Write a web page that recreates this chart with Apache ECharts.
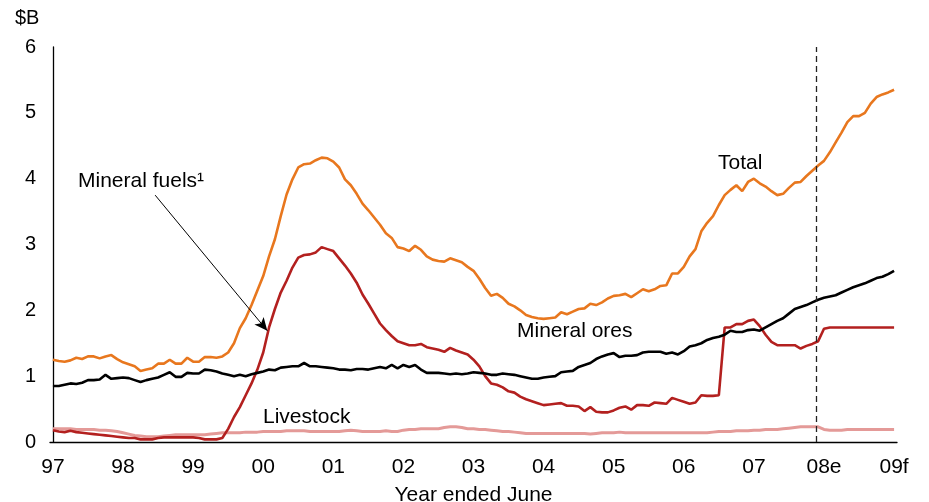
<!DOCTYPE html>
<html>
<head>
<meta charset="utf-8">
<title>Resource exports</title>
<script src="https://cdn.jsdelivr.net/npm/echarts@6/dist/echarts.min.js"></script>
<style>
  html, body { margin: 0; padding: 0; background: #fff; }
  #chart { width: 929px; height: 502px; }
</style>
</head>
<body>
<div id="chart"></div>
<script>
// Monthly, June 1997 (index 0) to June 2009 (index 144), $B
const yearLabels = ['97', '98', '99', '00', '01', '02', '03', '04', '05', '06', '07', '08e', '09f'];

const total = [
  1.25, 1.23, 1.22, 1.24, 1.28, 1.26, 1.3, 1.3, 1.27, 1.3, 1.32, 1.26,
  1.21, 1.18, 1.15, 1.08, 1.1, 1.12, 1.19, 1.19, 1.25, 1.19, 1.19, 1.28,
  1.22, 1.22, 1.29, 1.29, 1.28, 1.3, 1.36, 1.5, 1.73, 1.88, 2.08, 2.3,
  2.52, 2.82, 3.08, 3.43, 3.76, 3.99, 4.17, 4.22, 4.23, 4.28, 4.32, 4.31,
  4.26, 4.17, 3.99, 3.9, 3.77, 3.62, 3.52, 3.41, 3.3, 3.17, 3.1, 2.96,
  2.94, 2.9, 2.98, 2.92, 2.82, 2.77, 2.75, 2.74, 2.79, 2.76, 2.73, 2.66,
  2.6, 2.48, 2.34, 2.22, 2.25, 2.19, 2.1, 2.06, 2.0, 1.93, 1.9, 1.88,
  1.87, 1.88, 1.89, 1.97, 1.94, 1.98, 2.02, 2.03, 2.1, 2.08, 2.12, 2.18,
  2.22, 2.23, 2.25, 2.2, 2.26, 2.32, 2.29, 2.32, 2.37, 2.38, 2.56, 2.56,
  2.66, 2.82, 2.93, 3.2, 3.33, 3.43, 3.6, 3.75, 3.83, 3.9, 3.81, 3.95,
  4.0, 3.93, 3.88, 3.81, 3.75, 3.77, 3.86, 3.94, 3.95, 4.04, 4.12, 4.2,
  4.27, 4.4, 4.55, 4.7, 4.86, 4.95, 4.95, 5.0, 5.14, 5.24, 5.28, 5.31, 5.35
];

const mineralFuels = [
  0.18, 0.16, 0.15, 0.17, 0.15, 0.14, 0.13, 0.12, 0.11, 0.1, 0.09, 0.08,
  0.07, 0.06, 0.06, 0.04, 0.04, 0.04, 0.06, 0.07, 0.07, 0.07, 0.07, 0.07,
  0.07, 0.06, 0.04, 0.04, 0.04, 0.06, 0.2, 0.38, 0.53, 0.71, 0.89, 1.1,
  1.36, 1.74, 2.02, 2.27, 2.45, 2.65, 2.8, 2.84, 2.85, 2.88, 2.96, 2.93,
  2.9, 2.79, 2.68, 2.56, 2.42, 2.24, 2.1, 1.95, 1.8, 1.7, 1.61, 1.53,
  1.5, 1.47, 1.47, 1.49, 1.44, 1.42, 1.4, 1.37, 1.43, 1.39, 1.36, 1.33,
  1.25, 1.15, 1.0, 0.89, 0.87, 0.83, 0.77, 0.75, 0.69, 0.65, 0.62, 0.59,
  0.56, 0.57, 0.58, 0.59, 0.55, 0.55, 0.54, 0.47, 0.53, 0.46, 0.45, 0.45,
  0.48, 0.52, 0.54, 0.49, 0.56, 0.56, 0.55, 0.6, 0.59, 0.58, 0.67, 0.64,
  0.61, 0.58, 0.6, 0.71, 0.7, 0.7, 0.71, 1.74, 1.74, 1.79, 1.79, 1.84,
  1.86, 1.76, 1.63, 1.52, 1.47, 1.47, 1.47, 1.47, 1.42, 1.46, 1.49, 1.53,
  1.72, 1.74, 1.74, 1.74, 1.74, 1.74, 1.74, 1.74, 1.74, 1.74, 1.74, 1.74, 1.74
];

const mineralOres = [
  0.85, 0.85, 0.87, 0.89, 0.88, 0.9, 0.94, 0.94, 0.95, 1.02, 0.96, 0.97,
  0.98, 0.97, 0.94, 0.91, 0.94, 0.96, 0.98, 1.02, 1.06, 0.99, 0.99, 1.05,
  1.04, 1.04, 1.1, 1.09, 1.07, 1.04, 1.02, 1.0, 1.02, 1.0, 1.03, 1.05,
  1.07, 1.1, 1.09, 1.13, 1.14, 1.15, 1.15, 1.2, 1.15, 1.15, 1.14, 1.13,
  1.12, 1.1, 1.1, 1.09, 1.11, 1.11, 1.1, 1.12, 1.14, 1.12, 1.17, 1.12,
  1.17, 1.14, 1.17, 1.1, 1.05, 1.05, 1.05, 1.04, 1.03, 1.04, 1.03, 1.04,
  1.06, 1.05, 1.04, 1.02, 1.02, 1.04, 1.03, 1.02, 1.0, 0.98, 0.96, 0.96,
  0.98, 0.99, 1.0, 1.06, 1.07, 1.08, 1.14, 1.17, 1.2, 1.26, 1.3, 1.33,
  1.35, 1.29, 1.31, 1.31, 1.32, 1.36, 1.37, 1.37, 1.37, 1.34, 1.36, 1.33,
  1.38, 1.45, 1.47, 1.5, 1.55, 1.58, 1.6, 1.63, 1.69, 1.67, 1.67, 1.7,
  1.71, 1.69, 1.74, 1.79, 1.84, 1.88, 1.95, 2.02, 2.05, 2.08, 2.12, 2.16,
  2.19, 2.21, 2.23, 2.27, 2.31, 2.35, 2.38, 2.41, 2.45, 2.49, 2.51, 2.55, 2.6
];

const livestock = [
  0.2, 0.2, 0.2, 0.2, 0.19, 0.19, 0.19, 0.19, 0.18, 0.18, 0.17, 0.16,
  0.14, 0.12, 0.1, 0.09, 0.08, 0.08, 0.08, 0.09, 0.1, 0.11, 0.11, 0.11,
  0.11, 0.11, 0.11, 0.12, 0.13, 0.14, 0.14, 0.14, 0.14, 0.15, 0.15, 0.15,
  0.16, 0.16, 0.16, 0.16, 0.17, 0.17, 0.17, 0.17, 0.16, 0.16, 0.16, 0.16,
  0.16, 0.16, 0.17, 0.18, 0.17, 0.16, 0.16, 0.16, 0.16, 0.17, 0.16, 0.16,
  0.18, 0.19, 0.19, 0.2, 0.2, 0.2, 0.2, 0.22, 0.23, 0.23, 0.22, 0.2,
  0.2, 0.19, 0.19, 0.18, 0.17, 0.16, 0.16, 0.15, 0.14, 0.13, 0.13, 0.13,
  0.13, 0.13, 0.13, 0.13, 0.13, 0.13, 0.13, 0.13, 0.12, 0.13, 0.14, 0.14,
  0.14, 0.15, 0.14, 0.14, 0.14, 0.14, 0.14, 0.14, 0.14, 0.14, 0.14, 0.14,
  0.14, 0.14, 0.14, 0.14, 0.14, 0.15, 0.16, 0.16, 0.16, 0.17, 0.17, 0.17,
  0.18, 0.18, 0.19, 0.19, 0.19, 0.2, 0.21, 0.22, 0.23, 0.23, 0.23, 0.23,
  0.19, 0.18, 0.18, 0.18, 0.19, 0.19, 0.19, 0.19, 0.19, 0.19, 0.19, 0.19, 0.19
];

// Last actual month (forecasts after), and the arrow pointing to the fuels line
const forecastStart = 130.6;
const arrowFrom = [17.5, 3.75];
const arrowTo = [36.7, 1.69];

const FONT = '"Liberation Sans", Arial, Helvetica, sans-serif';

function toPairs(values) {
  return values.map((v, i) => [i, v]);
}

const chart = echarts.init(document.getElementById('chart'));

function lineSeries(name, values, color, width, extra) {
  return Object.assign({
    name: name,
    type: 'line',
    data: toPairs(values),
    showSymbol: false,
    symbol: 'none',
    lineStyle: { color: color, width: width },
    itemStyle: { color: color },
    emphasis: { disabled: true },
    z: 2
  }, extra || {});
}

chart.setOption({
  animation: false,
  backgroundColor: '#ffffff',
  grid: { left: 50, right: 32, top: 47, bottom: 60, containLabel: false, outerBoundsMode: 'none' },
  xAxis: {
    type: 'value',
    min: -0.5,
    max: 144.5,
    name: 'Year ended June',
    nameLocation: 'middle',
    nameGap: 43,
    nameTextStyle: { fontFamily: FONT, fontSize: 21, color: '#000' },
    splitLine: { show: false },
    axisLine: { show: true, onZero: false, lineStyle: { color: '#000', width: 1.3 } },
    axisTick: { show: false },
    axisLabel: {
      customValues: yearLabels.map((_, i) => i * 12),
      formatter: v => yearLabels[Math.round(v / 12)],
      fontFamily: FONT,
      fontSize: 21,
      color: '#000',
      margin: 15
    }
  },
  yAxis: {
    type: 'value',
    min: 0,
    max: 6,
    interval: 1,
    splitLine: { show: false },
    axisLine: { show: true, lineStyle: { color: '#000', width: 1.3 } },
    axisTick: { show: false },
    axisLabel: { fontFamily: FONT, fontSize: 20, color: '#000', margin: 14 }
  },
  graphic: [
    { type: 'text', left: 15, top: 8, style: { text: '$B', font: '20px ' + FONT, fill: '#000' } },
    { type: 'text', left: 78, top: 171, style: { text: 'Mineral fuels¹', font: '21px ' + FONT, fill: '#000' } },
    { type: 'text', left: 718, top: 153, style: { text: 'Total', font: '21px ' + FONT, fill: '#000' } },
    { type: 'text', left: 517, top: 321, style: { text: 'Mineral ores', font: '21px ' + FONT, fill: '#000' } },
    { type: 'text', left: 263, top: 407, style: { text: 'Livestock', font: '21px ' + FONT, fill: '#000' } }
  ],
  series: [
    lineSeries('Livestock', livestock, '#E49A98', 3),
    lineSeries('Mineral fuels', mineralFuels, '#B3201F', 2.6, {
      markLine: {
        silent: true,
        symbol: ['none', 'arrow'],
        symbolSize: [9, 13],
        label: { show: false },
        lineStyle: { color: '#000', width: 1, type: 'solid' },
        data: [[{ coord: arrowFrom }, { coord: arrowTo }]]
      }
    }),
    lineSeries('Mineral ores', mineralOres, '#000000', 2.6),
    lineSeries('Total', total, '#E8771E', 2.6, {
      markLine: {
        silent: true,
        symbol: ['none', 'none'],
        label: { show: false },
        lineStyle: { color: '#222', width: 1.3, type: [6, 4] },
        data: [{ xAxis: forecastStart }]
      }
    })
  ]
});

window.addEventListener('resize', () => chart.resize());
</script>
</body>
</html>
